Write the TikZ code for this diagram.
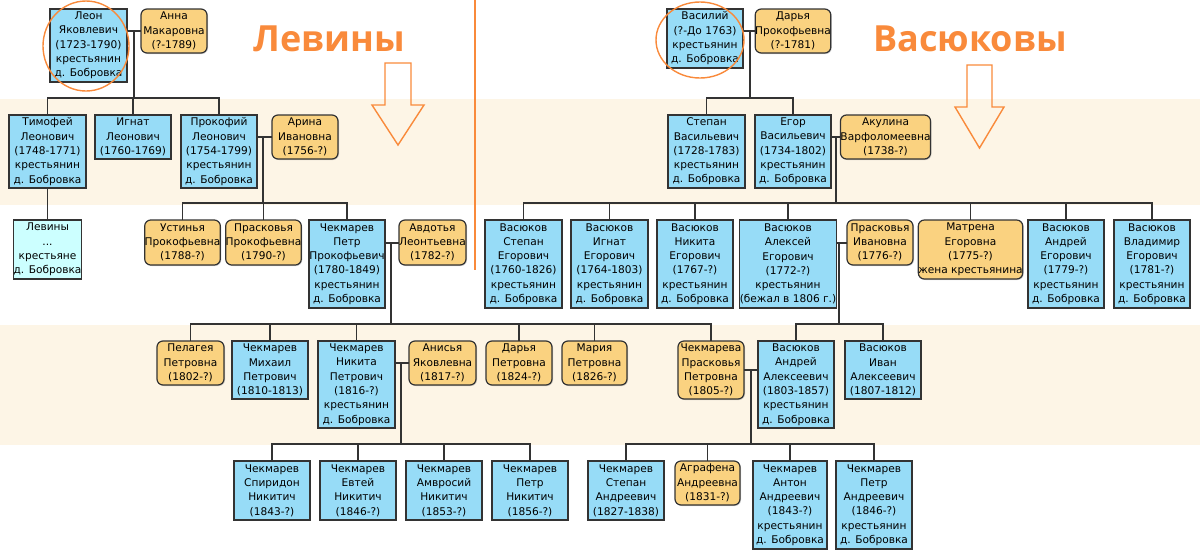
\documentclass[tikz,border=0pt]{standalone}
\usepackage{fontspec}
\setmainfont{DejaVu Sans}
\newfontfamily\titlefont{Open Sans}
\usetikzlibrary{shadows}
\definecolor{pblue}{HTML}{97DCF7}
\definecolor{pyel}{HTML}{FAD280}
\definecolor{pcyan}{HTML}{CCFFFF}
\definecolor{band}{HTML}{FDF5E6}
\definecolor{org}{HTML}{F98A3B}
\definecolor{edge}{HTML}{333333}
\tikzset{
 person/.style={draw=edge,line width=0.6pt,inner sep=0pt,outer sep=0pt,align=center,
   font=\fontsize{5.3}{7.15}\selectfont,
   drop shadow={shadow xshift=0.5pt,shadow yshift=-0.5pt,opacity=0.35}},
 bl/.style={person,fill=pblue},
 ye/.style={person,fill=pyel,rounded corners=3pt},
 cy/.style={person,fill=pcyan},
 link/.style={draw=edge,line width=0.6pt},
 hl/.style={draw=org,line width=0.7pt}
}
\newcommand\bx[7]{\node[#1,minimum width={(#5-#3)*0.5pt},minimum height={(#6-#4)*0.5pt}] (#2) at ({(#3+#5)/2},{(#4+#6)/2}) {#7};}
\begin{document}
\begin{tikzpicture}[x=0.5pt,y=-0.5pt]
\useasboundingbox (0,0) rectangle (1200,558);
\fill[band] (0,99) rectangle (1200,205);
\fill[band] (0,325) rectangle (1200,445);
\draw[hl] (475,0) -- (475,270);
\node[text=org,font=\titlefont\bfseries\fontsize{18}{20}\selectfont] (t1) at (329,39) {Левины};
\node[text=org,font=\titlefont\bfseries\fontsize{18}{20}\selectfont] (t2) at (970,39) {Васюковы};
\draw[hl] (385,63) -- (411,63) -- (411,105) -- (424,105) -- (398,145) -- (372,105) -- (385,105) -- cycle;
\draw[hl] (967,65) -- (992,65) -- (992,107) -- (1004,107) -- (979.5,148) -- (955,107) -- (967,107) -- cycle;
% coordinates
\coordinate (j1) at (134,31); \coordinate (b1) at (0,98);
\coordinate (j2) at (263,137); \coordinate (b2) at (0,203);
\coordinate (j3) at (391,243); \coordinate (b3) at (0,324);
\coordinate (j4) at (401,363); \coordinate (b4) at (0,444);
\coordinate (k1) at (750,31); \coordinate (k2) at (836,137);
\coordinate (k3) at (839,243); \coordinate (k4) at (751,370);
% connectors (drawn first)
\draw[link] (j1) -- (j1|-b1);
\draw[link] (j2) -- (j2|-b2);
\draw[link] (j3) -- (j3|-b3);
\draw[link] (j4) -- (j4|-b4);
\draw[link] (k1) -- (k1|-b1);
\draw[link] (k2) -- (k2|-b2);
\draw[link] (k3) -- (k3|-b3);
\draw[link] (k4) -- (k4|-b4);
% left nodes
\bx{bl}{leon}{50}{9}{127}{82}{Леон\\Яковлевич\\(1723-1790)\\крестьянин\\д. Бобровка}
\bx{ye}{anna}{141}{9}{207}{53}{Анна\\Макаровна\\(?-1789)}
\bx{bl}{tim}{9}{115}{86}{188}{Тимофей\\Леонович\\(1748-1771)\\крестьянин\\д. Бобровка}
\bx{bl}{ign}{95}{115}{171}{159}{Игнат\\Леонович\\(1760-1769)}
\bx{bl}{prok}{181}{115}{257}{188}{Прокофий\\Леонович\\(1754-1799)\\крестьянин\\д. Бобровка}
\bx{ye}{arina}{272}{115}{338}{159}{Арина\\Ивановна\\(1756-?)}
\bx{cy}{lev}{15}{220}{80}{279}{Левины\\...\\крестьяне\\д. Бобровка}
\bx{ye}{ust}{147}{220}{218}{265}{Устинья\\Прокофьевна\\(1788-?)}
\bx{ye}{pras}{228}{220}{299}{265}{Прасковья\\Прокофьевна\\(1790-?)}
\bx{bl}{petr}{309}{220}{385}{308}{Чекмарев\\Петр\\Прокофьевич\\(1780-1849)\\крестьянин\\д. Бобровка}
\bx{ye}{avd}{399}{220}{466}{265}{Авдотья\\Леонтьевна\\(1782-?)}
\bx{ye}{pel}{157}{341}{224}{385}{Пелагея\\Петровна\\(1802-?)}
\bx{bl}{mih}{232}{341}{308}{399}{Чекмарев\\Михаил\\Петрович\\(1810-1813)}
\bx{bl}{nik}{318}{341}{395}{428}{Чекмарев\\Никита\\Петрович\\(1816-?)\\крестьянин\\д. Бобровка}
\bx{ye}{anis}{409}{341}{476}{385}{Анисья\\Яковлевна\\(1817-?)}
\bx{ye}{darp}{486}{341}{552}{385}{Дарья\\Петровна\\(1824-?)}
\bx{ye}{mar}{562}{341}{627}{385}{Мария\\Петровна\\(1826-?)}
\bx{bl}{spir}{234}{461}{310}{520}{Чекмарев\\Спиридон\\Никитич\\(1843-?)}
\bx{bl}{evt}{320}{461}{396}{520}{Чекмарев\\Евтей\\Никитич\\(1846-?)}
\bx{bl}{amv}{406}{461}{482}{520}{Чекмарев\\Амвросий\\Никитич\\(1853-?)}
\bx{bl}{petn}{492}{461}{568}{520}{Чекмарев\\Петр\\Никитич\\(1856-?)}
% right nodes
\bx{bl}{vas}{667}{9}{743}{68}{Василий\\(?-До 1763)\\крестьянин\\д. Бобровка}
\bx{ye}{darya}{758}{9}{828}{53}{Дарья\\Прокофьевна\\(?-1781)}
\bx{bl}{stepv}{668}{115}{745}{188}{Степан\\Васильевич\\(1728-1783)\\крестьянин\\д. Бобровка}
\bx{bl}{egor}{755}{115}{831}{188}{Егор\\Васильевич\\(1734-1802)\\крестьянин\\д. Бобровка}
\bx{ye}{akul}{845}{115}{926}{159}{Акулина\\Варфоломеевна\\(1738-?)}
\bx{bl}{se}{485}{220}{562}{308}{Васюков\\Степан\\Егорович\\(1760-1826)\\крестьянин\\д. Бобровка}
\bx{bl}{ie}{571}{220}{648}{308}{Васюков\\Игнат\\Егорович\\(1764-1803)\\крестьянин\\д. Бобровка}
\bx{bl}{ne}{657}{220}{733}{308}{Васюков\\Никита\\Егорович\\(1767-?)\\крестьянин\\д. Бобровка}
\bx{bl}{ae}{743}{220}{833}{308}{Васюков\\Алексей\\Егорович\\(1772-?)\\крестьянин\\(бежал в 1806 г.)}
\bx{ye}{prasi}{847}{220}{913}{265}{Прасковья\\Ивановна\\(1776-?)}
\bx{ye}{matr}{923}{220}{1018}{279}{Матрена\\Егоровна\\(1775-?)\\жена крестьянина}
\bx{bl}{ane}{1028}{220}{1104}{308}{Васюков\\Андрей\\Егорович\\(1779-?)\\крестьянин\\д. Бобровка}
\bx{bl}{vle}{1114}{220}{1190}{308}{Васюков\\Владимир\\Егорович\\(1781-?)\\крестьянин\\д. Бобровка}
\bx{ye}{chpras}{678}{341}{744}{399}{Чекмарева\\Прасковья\\Петровна\\(1805-?)}
\bx{bl}{andr}{758}{341}{834}{428}{Васюков\\Андрей\\Алексеевич\\(1803-1857)\\крестьянин\\д. Бобровка}
\bx{bl}{ivan}{845}{341}{921}{399}{Васюков\\Иван\\Алексеевич\\(1807-1812)}
\bx{bl}{stepa}{588}{461}{664}{520}{Чекмарев\\Степан\\Андреевич\\(1827-1838)}
\bx{ye}{agr}{675}{461}{740}{505}{Аграфена\\Андреевна\\(1831-?)}
\bx{bl}{anton}{753}{461}{827}{549}{Чекмарев\\Антон\\Андреевич\\(1843-?)\\крестьянин\\д. Бобровка}
\bx{bl}{petra}{836}{461}{912}{549}{Чекмарев\\Петр\\Андреевич\\(1846-?)\\крестьянин\\д. Бобровка}
% spouse links
\draw[link] (leon.east|-j1) -- (anna.west|-j1);
\draw[link] (prok.east|-j2) -- (arina.west|-j2);
\draw[link] (petr.east|-j3) -- (avd.west|-j3);
\draw[link] (nik.east|-j4) -- (anis.west|-j4);
\draw[link] (vas.east|-k1) -- (darya.west|-k1);
\draw[link] (egor.east|-k2) -- (akul.west|-k2);
\draw[link] (ae.east|-k3) -- (prasi.west|-k3);
\draw[link] (chpras.east|-k4) -- (andr.west|-k4);
% children bars
\draw[link] (tim.north) -- (tim.north|-b1) -- (prok.north|-b1) -- (prok.north);
\draw[link] (ign.north) -- (ign.north|-b1);
\draw[link] (tim.south) -- (lev.north-|tim.south);
\draw[link] (ust.north) -- (ust.north|-b2) -- (petr.north|-b2) -- (petr.north);
\draw[link] (pras.north) -- (pras.north|-b2);
\draw[link] (pel.north) -- (pel.north|-b3) -- (chpras.north|-b3) -- (chpras.north);
\foreach \n in {mih,nik,darp,mar} \draw[link] (\n.north) -- (\n.north|-b3);
\draw[link] (spir.north) -- (spir.north|-b4) -- (petn.north|-b4) -- (petn.north);
\foreach \n in {evt,amv} \draw[link] (\n.north) -- (\n.north|-b4);
\draw[link] (stepv.north) -- (stepv.north|-b1) -- (egor.north|-b1) -- (egor.north);
\draw[link] (se.north) -- (se.north|-b2) -- (vle.north|-b2) -- (vle.north);
\foreach \n in {ie,ne,ae,matr,ane} \draw[link] (\n.north) -- (\n.north|-b2);
\draw[link] (andr.north) -- (andr.north|-b3) -- (ivan.north|-b3) -- (ivan.north);
\draw[link] (stepa.north) -- (stepa.north|-b4) -- (petra.north|-b4) -- (petra.north);
\foreach \n in {agr,anton} \draw[link] (\n.north) -- (\n.north|-b4);
% highlight circles
\draw[hl] (86,46) ellipse (43 and 45);
\draw[hl] (700,40) ellipse (44 and 38);
\end{tikzpicture}
\end{document}
